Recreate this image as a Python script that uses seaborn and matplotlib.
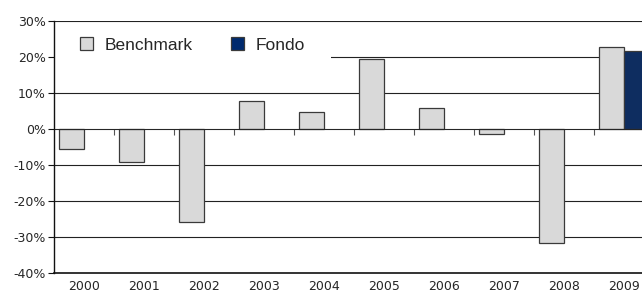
import numpy as np
import pandas as pd
import matplotlib
matplotlib.use("Agg")
import matplotlib.pyplot as plt
from matplotlib.patches import Patch
import seaborn as sns

# values (fractions)
years = ["2000", "2001", "2002", "2003", "2004", "2005", "2006", "2007", "2008", "2009"]
benchmark = [-0.055, -0.093, -0.258, 0.078, 0.046, 0.195, 0.057, -0.013, -0.318, 0.228]
fondo = [np.nan] * 9 + [0.217]
series = ["Benchmark", "Fondo"]
colors = ["#d9d9d9", "#002a6e"]
y_ticks = [-0.4, -0.3, -0.2, -0.1, 0.0, 0.1, 0.2, 0.3]

df = pd.concat([
    pd.DataFrame({"year": years, "value": benchmark, "series": "Benchmark"}),
    pd.DataFrame({"year": years, "value": fondo, "series": "Fondo"}),
]).dropna()

sns.set_style("white")
plt.rcParams["font.family"] = ["DejaVu Sans"]

fig = plt.figure(figsize=(6.42, 2.96), dpi=100)
ax = fig.add_axes([54 / 642, 23 / 296, 600 / 642, 252 / 296])

sns.barplot(data=df, x="year", y="value", hue="series", order=years,
            hue_order=series, palette=colors, width=0.84,
            edgecolor="#3a3a3a", linewidth=0.9, ax=ax, legend=False, zorder=3)

ax.set_xlim(-0.5, 9.5)
ax.set_ylim(-0.4, 0.3)
ax.set_yticks(y_ticks)
ax.set_yticklabels([f"{int(round(t * 100))}%" for t in y_ticks], fontsize=9)
ax.set_xlabel("")
ax.set_ylabel("")

# horizontal gridlines (not at zero); top one stays above the legend box
for t in y_ticks[1:]:
    if abs(t) > 1e-9:
        ax.axhline(t, color="#222222", lw=0.8, zorder=6 if t > 0.25 else 1)

for s in ["top", "right"]:
    ax.spines[s].set_visible(False)
ax.spines["left"].set_color("#111111")
ax.spines["bottom"].set_color("#111111")
ax.spines["left"].set_linewidth(1.0)
ax.spines["bottom"].set_linewidth(1.2)
ax.spines["left"].set_zorder(7)

ax.tick_params(axis="y", direction="out", length=4, width=0.8, color="#111111",
               left=True, pad=2)
ax.tick_params(axis="x", length=0, labelsize=9, pad=5)

# category axis crossing at zero with ticks between categories
sec = ax.secondary_xaxis(0.4 / 0.7)
sec.set_xticks(np.arange(0.5, 9.5, 1.0))
sec.set_xticklabels([])
sec.tick_params(direction="in", length=4, width=0.8, color="#555555")
sec.spines["bottom"].set_color("#808080")
sec.spines["bottom"].set_linewidth(1.0)
sec.set_zorder(4)

handles = [Patch(facecolor=c, edgecolor="#3a3a3a", lw=0.9) for c in colors]
leg = ax.legend(handles, series, loc="center left", bbox_to_anchor=(0.0, 0.905),
                ncol=2, frameon=True, prop={"family": "Liberation Sans", "size": 12.5},
                handlelength=0.72, handleheight=0.72, handletextpad=0.7,
                columnspacing=2.2, borderpad=1.5, borderaxespad=0.0)
leg.get_frame().set_facecolor("white")
leg.get_frame().set_edgecolor("none")
leg.get_frame().set_alpha(1)
leg.set_zorder(5)

fig.savefig("out.png", dpi=100)
